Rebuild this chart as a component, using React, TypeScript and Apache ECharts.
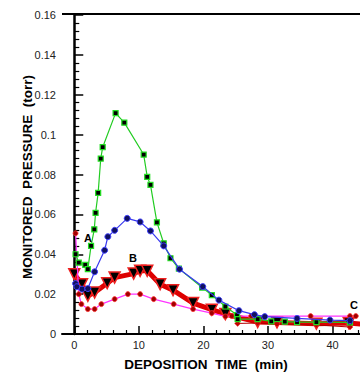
import React, { useEffect, useRef } from "react";
import * as echarts from "echarts";

// Series A (green, squares)
const greenData: number[][] = [
  [0.2, 0.040], [0.7, 0.0358], [1.7, 0.0347], [2.1, 0.0325], [2.6, 0.0442], [3.1, 0.0525],
  [3.3, 0.0608], [3.7, 0.0708], [4.1, 0.088], [4.4, 0.0937], [6.4, 0.1108], [7.75, 0.106],
  [10.75, 0.090], [11.3, 0.0788], [11.8, 0.0748], [12.8, 0.056], [13.85, 0.0455], [14.9, 0.038],
  [16.2, 0.0328], [19.8, 0.0233], [21.3, 0.0195], [23.4, 0.0138], [25.2, 0.0095], [25.3, 0.0075],
  [28.4, 0.0075], [30.5, 0.0063], [32.6, 0.0062], [34.5, 0.006], [37.5, 0.006], [42.7, 0.0058],
];
// Series A (blue, circles)
const blueData: number[][] = [
  [0.2, 0.0253], [0.4, 0.0237], [1.2, 0.0225], [2.1, 0.0228], [3.15, 0.0312], [4.7, 0.042],
  [5.2, 0.0488], [6.25, 0.052], [8.2, 0.058], [10.2, 0.0562], [11.8, 0.0517], [13.85, 0.0442],
  [16.3, 0.0325], [19.9, 0.0238], [22.4, 0.017], [25.5, 0.0117], [27.9, 0.0097], [29.5, 0.0087],
  [34.5, 0.0078], [39.6, 0.007], [42.7, 0.0067],
];
// Series B (thick red, triangles)
const redData: number[][] = [
  [0, 0.030], [1.2, 0.025], [2.1, 0.0192], [3.15, 0.0208], [5.1, 0.0255], [6.25, 0.0283],
  [9.2, 0.0303], [10.2, 0.0317], [11.3, 0.0317], [13.3, 0.025], [15.3, 0.022], [18.4, 0.0155],
  [21.3, 0.0122], [23.4, 0.010], [28.4, 0.006], [31.4, 0.0058], [37.5, 0.0052], [42.5, 0.0055],
  [44.5, 0.005],
];
// Lower red markers near B tail
const redLowData: number[][] = [
  [25.3, 0.0053], [28.4, 0.0055], [31.4, 0.005], [37.5, 0.0045], [42.7, 0.0035],
];
// Series C (magenta, dots)
const magentaData: number[][] = [
  [0.2, 0.0505], [0.7, 0.020], [1.1, 0.015], [2.1, 0.0125], [3.15, 0.0125], [4.2, 0.015],
  [6.25, 0.0175], [8.3, 0.020], [10.2, 0.020], [12.3, 0.0175], [15.4, 0.015], [18.4, 0.0125],
  [21.3, 0.0105], [23.4, 0.0088], [24.4, 0.009], [27.4, 0.009], [36.6, 0.009], [42.7, 0.009],
  [43.6, 0.009],
];
const xMajorTicks = [0, 10, 20, 30, 40];
const xMinorTicks = [2, 4, 6, 8, 12, 14, 16, 18, 22, 24, 26, 28, 32, 34, 36, 38, 42, 44];

export default function App() {
  const ref = useRef<HTMLDivElement>(null);
  useEffect(() => {
    if (!ref.current) return;
    const chart = echarts.init(ref.current, null, { renderer: "svg" });
    const font = "Liberation Sans, Arial, sans-serif";
    const common = { min: -1.9, max: 44.25, type: "value" as const, position: "bottom" as const };
    chart.setOption({
      animation: false,
      backgroundColor: "#fff",
      grid: { left: 62, top: 15, right: 0, bottom: 41 },
      xAxis: [
        {
          ...common,
          splitLine: { show: false },
          axisLine: { show: true, lineStyle: { color: "#000", width: 2 } },
          axisTick: { show: true, inside: true, length: 8, customValues: xMajorTicks, lineStyle: { color: "#000", width: 1.5 } },
          axisLabel: { customValues: xMajorTicks, color: "#222", fontSize: 11, fontFamily: font, margin: 5 },
        },
        {
          ...common,
          splitLine: { show: false },
          axisLine: { show: false },
          axisTick: { show: true, inside: true, length: 4, customValues: xMinorTicks, lineStyle: { color: "#000", width: 1.2 } },
          axisLabel: { show: false },
        },
      ],
      yAxis: {
        type: "value",
        min: 0,
        max: 0.16,
        interval: 0.02,
        splitLine: { show: false },
        axisLine: { show: true, lineStyle: { color: "#000", width: 2.5 } },
        axisTick: { show: true, inside: true, length: 9, lineStyle: { color: "#000", width: 1.5 } },
        minorTick: { show: true, splitNumber: 5, length: 5, lineStyle: { color: "#000", width: 1.2 } },
        axisLabel: { color: "#222", fontSize: 11, fontFamily: font, margin: 6 },
      },
      series: [
        {
          type: "line", data: redData, symbol: "triangle", symbolRotate: 180, symbolSize: 11,
          lineStyle: { color: "#dd0000", width: 5 },
          itemStyle: { color: "#000", borderColor: "#ee2020", borderWidth: 1.5 },
          z: 2,
        },
        {
          type: "line", data: redLowData, symbol: "diamond", symbolSize: 6,
          lineStyle: { color: "#b00000", width: 1 },
          itemStyle: { color: "#c00000", borderColor: "#ff3030", borderWidth: 0.5 },
          z: 3,
        },
        {
          type: "line", data: magentaData, symbol: "circle", symbolSize: 5,
          lineStyle: { color: "#ff33ff", width: 1.2 },
          itemStyle: { color: "#a00000", borderColor: "#ff3030", borderWidth: 0.8 },
          z: 3,
        },
        {
          type: "line", data: greenData, symbol: "rect", symbolSize: 5,
          lineStyle: { color: "#22cc22", width: 1.2 },
          itemStyle: { color: "#000", borderColor: "#22dd22", borderWidth: 1.2 },
          z: 4,
        },
        {
          type: "line", data: blueData, symbol: "circle", symbolSize: 6,
          lineStyle: { color: "#3838f0", width: 1.2 },
          itemStyle: { color: "#101060", borderColor: "#4040ff", borderWidth: 1 },
          z: 5,
        },
      ],
      graphic: [
        { type: "line", shape: { x1: 62, y1: 14, x2: 360, y2: 14 }, style: { stroke: "#000", lineWidth: 2 }, z: 10 },
        {
          type: "text", x: 27, y: 177, rotation: Math.PI / 2, z: 10,
          style: { text: "MONITORED  PRESSURE  (torr)", font: `bold 13.5px ${font}`, fill: "#000", align: "center", verticalAlign: "middle" },
        },
        {
          type: "text", x: 206, y: 364, z: 10,
          style: { text: "DEPOSITION  TIME  (min)", font: `bold 13.5px ${font}`, fill: "#000", align: "center", verticalAlign: "middle" },
        },
        { type: "text", x: 88, y: 238, z: 10, style: { text: "A", font: `bold 11px ${font}`, fill: "#000", align: "center", verticalAlign: "middle" } },
        { type: "text", x: 133, y: 258, z: 10, style: { text: "B", font: `bold 11px ${font}`, fill: "#000", align: "center", verticalAlign: "middle" } },
        { type: "text", x: 350, y: 305, z: 10, style: { text: "C", font: `bold 11px ${font}`, fill: "#000", align: "left", verticalAlign: "middle" } },
      ],
    });
    return () => chart.dispose();
  }, []);
  return <div ref={ref} style={{ position: "absolute", left: 0, top: 0, width: 360, height: 375 }} />;
}
